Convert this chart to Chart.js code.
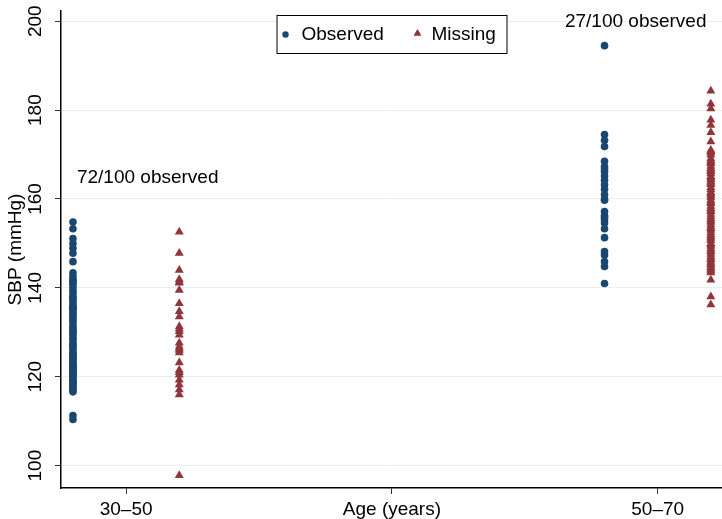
<!DOCTYPE html>
<html>
<head>
<meta charset="utf-8">
<title>SBP by age group</title>
<script src="https://cdn.jsdelivr.net/npm/chart.js@4.4.1/dist/chart.umd.min.js"></script>
<style>
  html, body { margin: 0; padding: 0; background: #fff; }
  canvas { display: block; }
</style>
</head>
<body>
<canvas id="sbpChart" width="722" height="519"></canvas>
<script>
// ---- data ----
const xTickValues = [1, 2, 3];
const xTickLabels = ['30–50', 'Age (years)', '50–70'];
const yTickValues = [100, 120, 140, 160, 180, 200];

// Age 30–50: 72 observed, 28 missing
const observedAge3050 = [
  154.8, 153.3, 151.1, 150.0, 148.9, 147.8, 145.9, 143.4, 142.6, 141.9,
  141.2, 140.8, 140.1, 139.4, 138.9, 138.1, 137.3, 136.7, 136.1, 135.6,
  135.2, 134.7, 134.1, 133.4, 132.8, 132.3, 131.6, 131.0, 130.2, 129.4,
  128.7, 128.3, 127.6, 126.9, 126.4, 125.8, 125.3, 124.9, 124.3, 123.8,
  123.4, 122.9, 122.6, 122.1, 121.7, 121.2, 120.9, 120.4, 120.0, 119.6,
  119.1, 118.7, 118.3, 117.9, 117.4, 117.0, 116.6, 135.4, 133.9, 129.9,
  127.2, 124.6, 122.3, 120.6, 118.9, 141.6, 137.8, 130.6, 125.1, 111.3,
  110.4, 121.5
];
const missingAge3050 = [
  152.6, 147.8, 144.0, 141.9, 141.1, 139.5, 136.5, 134.7, 133.5, 131.3,
  130.2, 129.4, 127.6, 126.8, 126.0, 125.4, 123.2, 121.5, 120.4, 119.3,
  118.2, 117.1, 116.0, 97.8, 141.4, 130.7, 126.3, 121.0
];

// Age 50–70: 27 observed, 73 missing
const observedAge5070 = [
  194.5, 174.5, 173.2, 171.8, 168.5, 167.3, 166.2, 165.2, 164.2, 163.2,
  162.2, 161.0, 160.0, 157.2, 156.3, 155.4, 154.6, 153.3, 151.3, 148.2,
  147.4, 145.9, 144.8, 141.0, 166.8, 159.7, 155.9
];
const missingAge5070 = [
  184.3, 181.4, 180.3, 177.8, 176.6, 175.0, 172.9, 171.0, 170.4, 169.9,
  169.1, 168.6, 168.0, 167.4, 166.9, 166.2, 165.7, 165.1, 164.4, 163.9,
  163.3, 162.6, 162.1, 161.5, 160.8, 160.3, 159.7, 159.0, 158.4, 157.9,
  157.2, 156.6, 156.0, 155.5, 154.8, 154.2, 153.7, 153.0, 152.4, 151.9,
  151.2, 150.7, 150.0, 149.4, 148.8, 148.1, 147.6, 147.0, 146.3, 145.8,
  145.1, 144.6, 143.9, 143.4, 141.8, 138.0, 136.2, 170.7, 168.3, 166.5,
  164.8, 163.6, 161.2, 159.3, 157.5, 155.1, 153.4, 151.5, 149.7, 148.4,
  146.6, 145.4, 144.2
];

const observedCounts = ['72/100 observed', '27/100 observed'];

// x positions of each column on the numeric age axis
const groupCentre = [1, 3];
const columnShift = 0.2;

// ---- styling ----
const FONT = '"Liberation Sans", Arial, Helvetica, sans-serif';
const FONT_SIZE = 19;
const NAVY = '#1a476f';
const MAROON = '#90353b';
const GRID = '#e6eef0';

const toPoints = (values, x) => values.map(v => ({ x, y: v }));

// Stata-ish layout: rotated y tick labels, legend box, text annotations
const stataDecor = {
  id: 'stataDecor',
  afterDraw(chart) {
    const { ctx, chartArea, scales } = chart;
    const xs = scales.x, ys = scales.y;
    ctx.save();
    ctx.fillStyle = '#000';
    ctx.font = FONT_SIZE + 'px ' + FONT;

    // y tick labels, vertical
    ctx.textAlign = 'center';
    ctx.textBaseline = 'middle';
    yTickValues.forEach(v => {
      ctx.save();
      ctx.translate(36, ys.getPixelForValue(v));
      ctx.rotate(-Math.PI / 2);
      ctx.fillText(String(v), 0, 0);
      ctx.restore();
    });

    // n/100 observed notes
    ctx.textAlign = 'left';
    ctx.fillText(observedCounts[0], xs.getPixelForValue(0.815), ys.getPixelForValue(164.7));
    ctx.fillText(observedCounts[1], xs.getPixelForValue(2.651), ys.getPixelForValue(199.8));

    // legend box
    const cx = (chartArea.left + chartArea.right) / 2;
    const boxL = cx - 115, boxT = 15, boxW = 230, boxH = 38;
    ctx.fillStyle = '#fff';
    ctx.fillRect(boxL, boxT, boxW, boxH);
    ctx.strokeStyle = '#000';
    ctx.lineWidth = 1;
    ctx.strokeRect(boxL + 0.5, boxT + 0.5, boxW, boxH);
    const midY = boxT + boxH / 2 + 0.5;
    ctx.fillStyle = NAVY;
    ctx.beginPath();
    ctx.arc(boxL + 9, midY, 3.2, 0, Math.PI * 2);
    ctx.fill();
    ctx.fillStyle = MAROON;
    Chart.helpers.drawPoint(ctx, { pointStyle: 'triangle', radius: 4.2, borderWidth: 0 }, boxL + 141, midY - 1);
    ctx.fill();
    ctx.fillStyle = '#000';
    ctx.textBaseline = 'middle';
    ctx.fillText('Observed', boxL + 25, midY);
    ctx.fillText('Missing', boxL + 155, midY);
    ctx.restore();
  }
};

new Chart(document.getElementById('sbpChart'), {
  type: 'scatter',
  data: {
    datasets: [
      {
        label: 'Observed',
        data: [
          ...toPoints(observedAge3050, groupCentre[0] - columnShift),
          ...toPoints(observedAge5070, groupCentre[1] - columnShift)
        ],
        pointStyle: 'circle',
        pointRadius: 3.8,
        pointBorderWidth: 0,
        backgroundColor: NAVY,
        borderColor: NAVY
      },
      {
        label: 'Missing',
        data: [
          ...toPoints(missingAge3050, groupCentre[0] + columnShift),
          ...toPoints(missingAge5070, groupCentre[1] + columnShift)
        ],
        pointStyle: 'triangle',
        pointRadius: 5.2,
        pointBorderWidth: 0,
        backgroundColor: MAROON,
        borderColor: MAROON
      }
    ]
  },
  options: {
    responsive: false,
    animation: false,
    layout: { autoPadding: false, padding: { top: 11, right: 0, left: 0, bottom: 0 } },
    plugins: {
      legend: { display: false },
      tooltip: { enabled: false }
    },
    scales: {
      x: {
        type: 'linear',
        min: 0.755,
        max: 3.242,
        afterBuildTicks: s => { s.ticks = xTickValues.map(v => ({ value: v })); },
        afterFit: s => { s.height = 31; },
        grid: { drawOnChartArea: false, drawTicks: true, tickLength: 6, tickColor: '#333' },
        border: { display: true, color: '#000', width: 1.5 },
        ticks: {
          color: '#000',
          padding: 4,
          maxRotation: 0,
          font: { family: FONT, size: FONT_SIZE },
          callback: v => xTickLabels[xTickValues.indexOf(v)] ?? ''
        }
      },
      y: {
        type: 'linear',
        min: 94.97,
        max: 202.3,
        afterBuildTicks: s => { s.ticks = yTickValues.map(v => ({ value: v })); },
        afterFit: s => { s.width = 61; },
        grid: { color: GRID, lineWidth: 1, drawTicks: true, tickLength: 6, tickColor: '#333' },
        border: { display: true, color: '#000', width: 1.5 },
        ticks: { display: false },
        title: {
          display: true,
          text: 'SBP (mmHg)',
          color: '#000',
          padding: { top: 4, bottom: 0 },
          font: { family: FONT, size: FONT_SIZE }
        }
      }
    }
  },
  plugins: [stataDecor]
});
</script>
</body>
</html>
